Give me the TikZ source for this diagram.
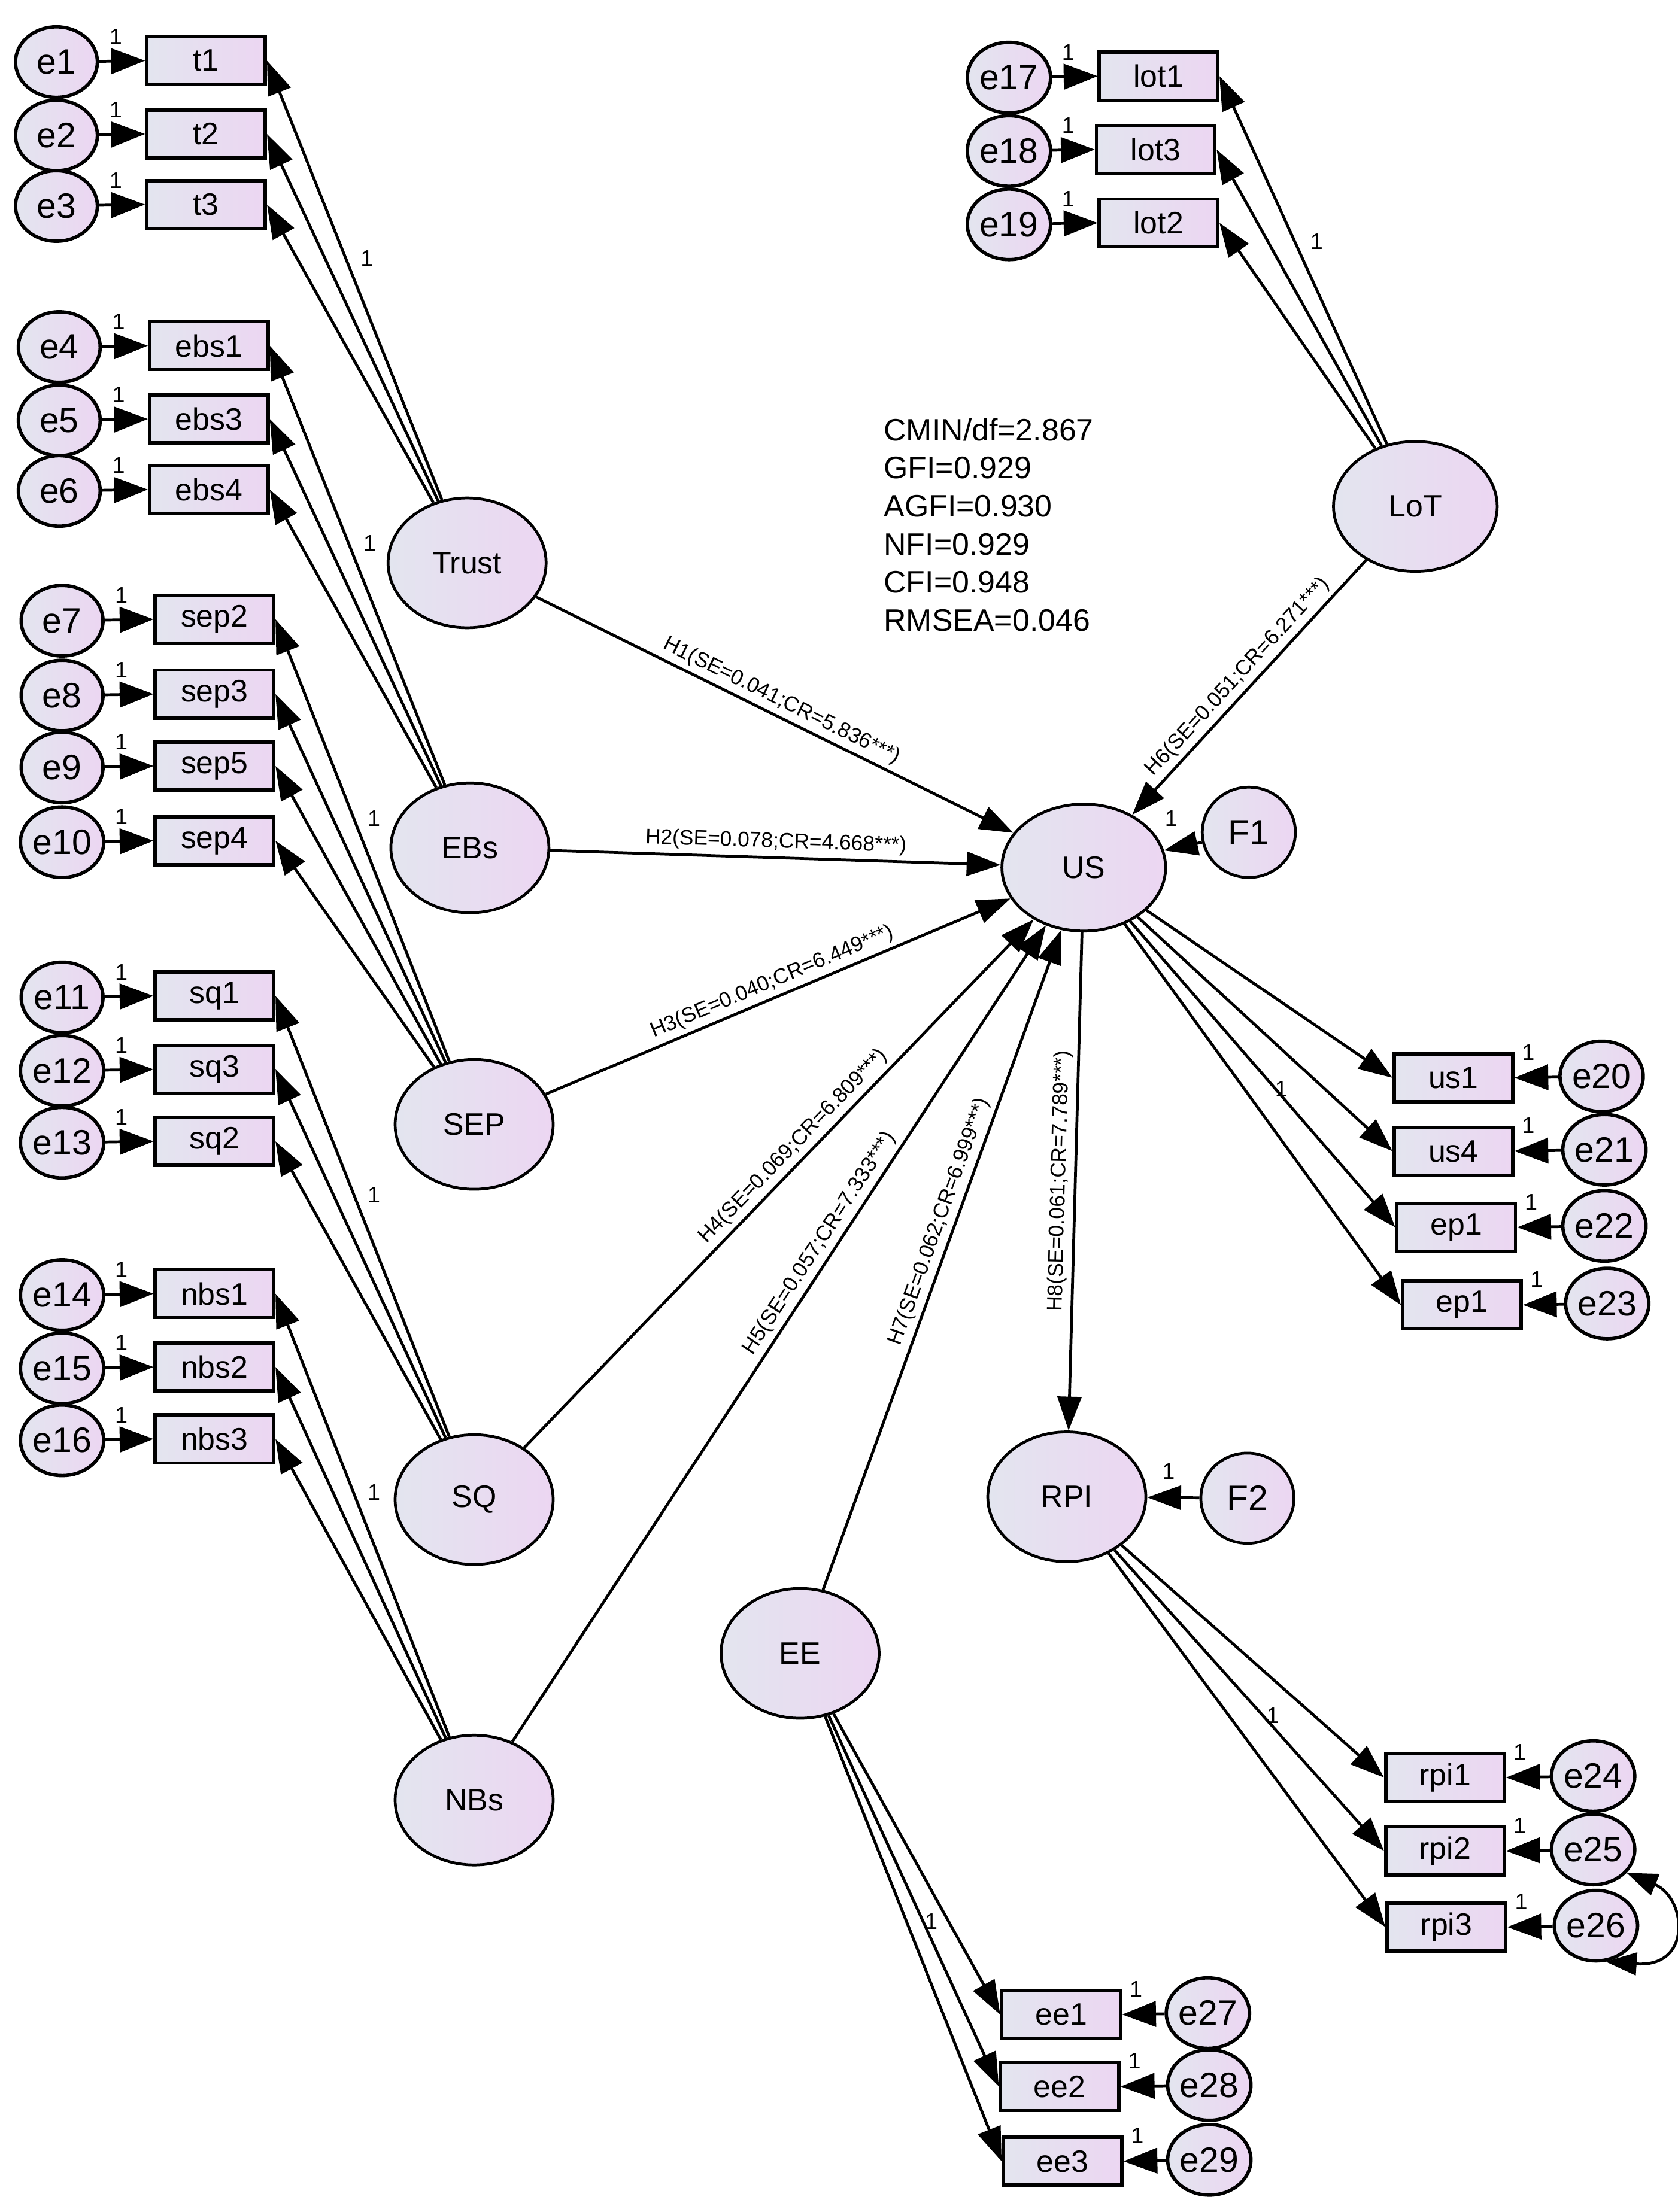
\documentclass[tikz,border=0pt]{standalone}
\usepackage{fontspec}
\setmainfont{Liberation Sans}
\usetikzlibrary{arrows.meta,shapes.geometric}
\begin{document}
\begin{tikzpicture}[x=0.5pt,y=-0.5pt,
 grad/.style={left color=gl,right color=gr,draw=black},
 err/.style={ellipse,grad,line width=1.2pt,minimum width=29pt,minimum height=25pt,inner sep=0pt,font=\fontsize{12.5}{14}\selectfont},
 obs/.style={rectangle,grad,line width=1.2pt,minimum width=42pt,minimum height=17pt,inner sep=0pt,font=\fontsize{11}{13}\selectfont},
 lat/.style={ellipse,grad,line width=1pt,minimum width=56pt,minimum height=46pt,inner sep=0pt,font=\fontsize{11}{13}\selectfont},
 res/.style={ellipse,grad,line width=1pt,minimum width=33pt,minimum height=32pt,inner sep=0pt,font=\fontsize{12.5}{14}\selectfont},
 ea/.style={-{Triangle[length=12pt,width=9pt]},line width=1pt},
 la/.style={-{Triangle[length=12pt,width=8.5pt]},line width=1pt},
 one/.style={font=\fontsize{8}{9}\selectfont,inner sep=1pt},
 hl/.style={font=\fontsize{7.5}{9}\selectfont,sloped,above,inner sep=1.5pt}]
\definecolor{gl}{HTML}{E3E5EF}
\definecolor{gr}{HTML}{ECD6F2}
\useasboundingbox (0,0) rectangle (1189,1568);
% latent
\node[lat] (Trust) at (331,399) {Trust};
\node[lat] (EBs) at (333,601) {EBs};
\node[lat] (SEP) at (336,797) {SEP};
\node[lat] (SQ) at (336,1063) {SQ};
\node[lat] (NBs) at (336,1276) {NBs};
\node[lat] (EE) at (567,1172) {EE};
\node[lat,minimum width=58pt,minimum height=45pt] (US) at (768,615) {US};
\node[lat] (RPI) at (756,1061) {RPI};
\node[lat,minimum width=58pt] (LoT) at (1003,359) {LoT};
\node[res] (F1) at (885,590) {F1};
\node[res] (F2) at (884,1062) {F2};
% left indicators
\foreach \e/\b/\t/\y/\ex/\bx/\L in {
 1/t1/t1/43/40/146/Trust,2/t2/t2/95/40/146/Trust,3/t3/t3/145/40/146/Trust,
 4/ebs1/ebs1/245/42/148/EBs,5/ebs3/ebs3/297/42/148/EBs,6/ebs4/ebs4/347/42/148/EBs,
 7/sep2/sep2/439/44/152/SEP,8/sep3/sep3/492/44/152/SEP,9/sep5/sep5/543/44/152/SEP,10/sep4/sep4/596/44/152/SEP,
 11/sq1/sq1/706/44/152/SQ,12/sq3/sq3/758/44/152/SQ,13/sq2/sq2/809/44/152/SQ,
 14/nbs1/nbs1/917/44/152/NBs,15/nbs2/nbs2/969/44/152/NBs,16/nbs3/nbs3/1020/44/152/NBs}{
 \node[obs] (\b) at (\bx,\y) {\t};
 \node[err] (e\e) at (\ex,\y+1) {e\e};
 \draw[ea] (e\e) -- (\b.west);
 \node[one] (o\e) at (\ex+42,\y-17) {1};
 \draw[la] (\L) -- (\b.east);
}
% LoT indicators
\foreach \e/\b/\y/\bx in {17/lot1/54/821,18/lot3/106/819,19/lot2/158/821}{
 \node[obs] (\b) at (\bx,\y) {\b};
 \node[err] (e\e) at (715,\y+1) {e\e};
 \draw[ea] (e\e) -- (\b.west);
 \node[one] (o\e) at (757,\y-17) {1};
 \draw[la] (LoT) -- (\b.east);
}
% right indicators
\foreach \e/\b/\t/\y/\bx/\ex/\L in {20/us1/us1/764/1030/1135/US,21/us4/us4/816/1030/1137/US,22/epa/ep1/870/1032/1137/US,23/epb/ep1/925/1036/1139/US,
 24/rpi1/rpi1/1260/1024/1129/RPI,25/rpi2/rpi2/1312/1024/1129/RPI,26/rpi3/rpi3/1366/1025/1131/RPI,
 27/ee1/ee1/1428/752/856/EE,28/ee2/ee2/1479/751/857/EE,29/ee3/ee3/1532/753/857/EE}{
 \node[obs] (\b) at (\bx,\y) {\t};
 \node[err] (e\e) at (\ex,\y-1) {e\e};
 \draw[ea] (e\e) -- (\b.east);
 \node[one] (o\e) at (\bx+53,\y-18) {1};
 \draw[la] (\L) -- (\b.west);
}
% loading 1 labels
\node[one] (l1) at (260,183) {1};
\node[one] (l2) at (262,385) {1};
\node[one] (l3) at (265,580) {1};
\node[one] (l4) at (265,847) {1};
\node[one] (l5) at (265,1058) {1};
\node[one] (l6) at (933,171) {1};
\node[one] (l7) at (908,772) {1};
\node[one] (l8) at (902,1216) {1};
\node[one] (l9) at (660,1362) {1};
% residuals
\draw[la] (F1) -- (US);
\node[one] (f1l) at (830,580) {1};
\draw[la] (F2) -- (RPI);
\node[one] (f2l) at (828,1043) {1};
% structural
\draw[la] (Trust) -- node[hl,pos=0.5] {H1(SE=0.041;CR=5.836***)} (US);
\draw[la] (EBs) -- node[hl,pos=0.5] {H2(SE=0.078;CR=4.668***)} (US);
\draw[la] (SEP) -- node[hl,pos=0.5] {H3(SE=0.040;CR=6.449***)} (US);
\draw[la] (SQ) -- node[hl,pos=0.55] {H4(SE=0.069;CR=6.809***)} (US);
\draw[la] (NBs) -- node[hl,pos=0.6] {H5(SE=0.057;CR=7.333***)} (US);
\draw[la] (EE) -- node[hl,pos=0.55] {H7(SE=0.062;CR=6.999***)} (US);
\draw[la] (LoT) -- node[hl,pos=0.5] {H6(SE=0.051;CR=6.271***)} (US);
\draw[la] (US) -- node[hl,pos=0.5] {H8(SE=0.061;CR=7.789***)} (RPI);
% covariance
\draw[{Triangle[length=11pt,width=8pt]}-{Triangle[length=11pt,width=8pt]},line width=1pt] (e25.-35) .. controls (1195,1345) and (1200,1395) .. (e26.-75);
% fit stats
\node[align=left,anchor=north west,font=\fontsize{11}{13.5}\selectfont,inner sep=0pt] (fit) at (626,296)
 {CMIN/df=2.867\\GFI=0.929\\AGFI=0.930\\NFI=0.929\\CFI=0.948\\RMSEA=0.046};
\end{tikzpicture}
\end{document}
